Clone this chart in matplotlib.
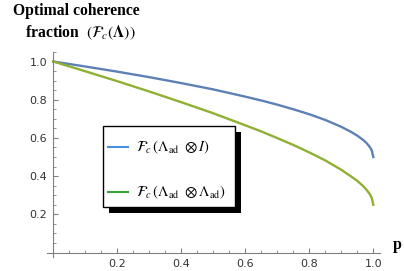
import matplotlib
matplotlib.use('Agg')
import matplotlib.pyplot as plt
from matplotlib.patches import Rectangle
from matplotlib.lines import Line2D
from matplotlib.ticker import MultipleLocator

p = [0.0, 0.1, 0.2, 0.3, 0.4, 0.5, 0.6, 0.65, 0.7, 0.75, 0.8, 0.85, 0.9,
     0.93, 0.95, 0.97, 0.98, 0.99, 0.995, 1.0]
fc_id = [1.0, 0.974, 0.947, 0.918, 0.887, 0.854, 0.816, 0.796, 0.774, 0.750,
         0.724, 0.694, 0.658, 0.632, 0.612, 0.587, 0.571, 0.550, 0.535, 0.5]
fc_ad = [1.0, 0.949, 0.897, 0.843, 0.787, 0.729, 0.666, 0.634, 0.599, 0.563,
         0.524, 0.482, 0.433, 0.399, 0.375, 0.345, 0.326, 0.303, 0.286, 0.25]
labels = [r'$\mathcal{F}_c\,(\Lambda_{\mathrm{ad}}\ \otimes I)$',
          r'$\mathcal{F}_c\,(\Lambda_{\mathrm{ad}}\ \otimes \Lambda_{\mathrm{ad}})$']

plt.rcParams['mathtext.fontset'] = 'stix'

fig = plt.figure(figsize=(4.04, 2.71), dpi=100)
ax = fig.add_axes([0.1161, 0.0506, 0.8238, 0.7576])

ax.plot(p, fc_id, color='#5E81B5', lw=1.7)
ax.plot(p, fc_ad, color='#8FB032', lw=1.7)

ax.set_xlim(-0.02, 1.02)
ax.set_ylim(-0.025, 1.05)
for s in ['top', 'right']:
    ax.spines[s].set_visible(False)
for s in ['left', 'bottom']:
    ax.spines[s].set_position(('data', 0))
    ax.spines[s].set_color('#808080')
ax.xaxis.set_minor_locator(MultipleLocator(0.05))
ax.yaxis.set_minor_locator(MultipleLocator(0.05))
ax.set_xticks([0.2, 0.4, 0.6, 0.8, 1.0])
ax.set_xticklabels(['0.2', '0.4', '0.6', '0.8', '1.0'])
ax.set_yticks([0.2, 0.4, 0.6, 0.8, 1.0])
ax.set_yticklabels(['0.2', '0.4', '0.6', '0.8', '1.0'])
ax.tick_params(which='both', direction='in', color='#808080', labelsize=8,
               labelcolor='#333333')
ax.tick_params(which='major', length=3.5, width=0.8)
ax.tick_params(which='minor', length=2, width=0.6)
ax.tick_params(axis='x', pad=5)
ax.tick_params(axis='y', pad=4.5)

fig.text(13 / 404, 1 - 15 / 271, 'Optimal coherence', fontsize=11.3,
         fontweight='bold', family='Liberation Serif', va='baseline')
fig.text(25 / 404, 1 - 37 / 271, r'fraction  $(\mathcal{F}_c(\mathbf{\Lambda}))$',
         fontsize=11.3, fontweight='bold', family='Liberation Serif',
         va='baseline')
fig.text(397 / 404, 1 - 245 / 271, 'p', fontsize=11.5, fontweight='bold',
         family='Liberation Serif', ha='center', va='center')

# legend with drop shadow
W, H = 404, 271
fig.patches.append(Rectangle((109 / W, 1 - 213 / H), 132 / W, 81 / H,
                             transform=fig.transFigure, facecolor='black',
                             edgecolor='none', zorder=5))
fig.patches.append(Rectangle((103 / W, 1 - 207 / H), 132 / W, 81 / H,
                             transform=fig.transFigure, facecolor='white',
                             edgecolor='black', lw=1, zorder=6))
for yy, c, lab in [(147, '#4A90E2', labels[0]), (192, '#3CA03C', labels[1])]:
    fig.lines.append(Line2D([108 / W, 128 / W], [1 - yy / H, 1 - yy / H],
                            transform=fig.transFigure, color=c, lw=1.5, zorder=7))
    fig.text(136 / W, 1 - yy / H, lab, fontsize=10.5, va='center', zorder=7)

fig.savefig('out.png', dpi=100)
